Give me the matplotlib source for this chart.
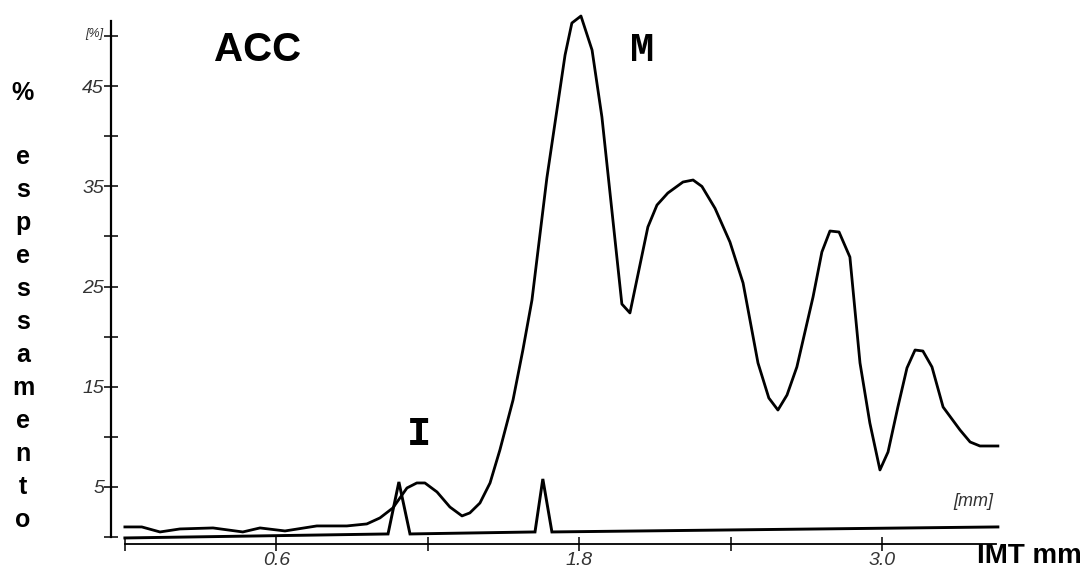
import matplotlib
matplotlib.use("Agg")
import matplotlib.pyplot as plt

# IMT thickness distribution (mm vs % of thickness)
imt_mm = [0.00, 0.067, 0.139, 0.218, 0.349, 0.467, 0.535, 0.634, 0.760, 0.879,
          0.958, 1.010, 1.061, 1.089, 1.117, 1.156, 1.188, 1.236, 1.287, 1.335,
          1.366, 1.406, 1.446, 1.485, 1.537, 1.576, 1.612, 1.671, 1.743, 1.770,
          1.806, 1.850, 1.889, 1.968, 2.000, 2.071, 2.107, 2.150, 2.210, 2.250,
          2.285, 2.337, 2.396, 2.448, 2.507, 2.550, 2.586, 2.622, 2.661, 2.725,
          2.760, 2.792, 2.828, 2.871, 2.911, 2.950, 2.990, 3.022, 3.061, 3.097,
          3.129, 3.160, 3.196, 3.240, 3.307, 3.347, 3.386, 3.426, 3.457]
imt_pct = [1.00, 1.00, 0.50, 0.80, 0.90, 0.50, 0.90, 0.60, 1.10, 1.10,
           1.30, 1.90, 2.89, 3.89, 4.89, 5.39, 5.39, 4.49, 2.99, 2.10,
           2.40, 3.39, 5.39, 8.68, 13.67, 18.66, 23.65, 35.83, 48.10, 51.30,
           52.00, 48.60, 41.92, 23.25, 22.36, 30.94, 33.13, 34.33, 35.43, 35.63,
           34.99, 32.80, 29.44, 25.35, 17.37, 13.87, 12.67, 14.17, 16.97, 23.95,
           28.44, 30.54, 30.44, 27.94, 17.37, 11.38, 6.69, 8.48, 12.97, 16.87,
           18.66, 18.56, 16.97, 12.97, 10.68, 9.48, 9.08, 9.08, 9.08]

# baseline trace with the two markers (I and M)
base_mm = [0.00, 1.042, 1.085, 1.129, 1.624, 1.655, 1.691, 3.457]
base_pct = [-0.10, 0.30, 5.49, 0.30, 0.50, 5.79, 0.50, 1.00]

y_major = [5, 15, 25, 35, 45]
y_minor = [0, 10, 20, 30, 40, 50]
x_major = [0.6, 1.8, 3.0]
x_minor = [0.0, 1.2, 2.4]
letters = list("espessamento")

W, H = 1086, 576
fig = plt.figure(figsize=(W / 100, H / 100), dpi=100)
ax = fig.add_axes([111 / W, 16 / H, 899 / W, 550 / H])

def fx(px):
    return px / W

def fy(py):
    return 1 - py / H

ax.plot(imt_mm, imt_pct, color="black", lw=2.0, solid_joinstyle="round")
ax.plot(base_mm, base_pct, color="black", lw=2.1, solid_joinstyle="miter")

ax.set_xlim(-0.055, 3.505)
ax.set_ylim(-2.3, 52.6)

for s in ["top", "right"]:
    ax.spines[s].set_visible(False)
ax.spines["left"].set_bounds(0, 51.5)
ax.spines["left"].set_linewidth(1.6)
ax.spines["bottom"].set_position(("data", -0.7))
ax.spines["bottom"].set_bounds(0, 3.45)
ax.spines["bottom"].set_linewidth(1.3)

ax.set_yticks(y_major)
ax.set_yticklabels([str(v) for v in y_major])
ax.set_yticks(y_minor, minor=True)
ax.set_xticks(x_major)
ax.set_xticklabels([f"{v:.1f}" for v in x_major])
ax.set_xticks(x_minor, minor=True)
ax.tick_params(axis="both", which="both", direction="inout", length=10, width=1.1,
               colors="black")
ax.tick_params(axis="y", which="major", labelsize=14, pad=0, labelcolor="#333333")
ax.tick_params(axis="x", which="major", labelsize=14, pad=1, labelcolor="#333333")
for lab in ax.get_xticklabels() + ax.get_yticklabels():
    lab.set_fontstyle("italic")
    lab.set_family("Liberation Sans")

# small unit labels
fig.text(fx(94), fy(34), "[%]", fontsize=9, style="italic", color="#333333",
         ha="center", va="center", family="Liberation Sans")
ax.text(3.44, 2.7, "[mm]", fontsize=13, style="italic", color="#333333",
        ha="right", va="bottom", family="Liberation Sans")

# annotations
fig.text(fx(258), fy(50), "ACC", fontsize=29, weight="bold", ha="center",
         va="center", family="Liberation Sans")
fig.text(fx(642), fy(50), "M", fontsize=29, weight="bold", ha="center",
         va="center", family="Liberation Mono")
fig.text(fx(419), fy(434), "I", fontsize=29, weight="bold", ha="center",
         va="center", family="Liberation Mono")

# axis titles
fig.text(fx(1029), fy(556), "IMT mm", fontsize=20, weight="bold", ha="center",
         va="center", family="Liberation Sans")
fig.text(fx(23), fy(93), "%", fontsize=18, weight="bold", ha="center",
         va="center", family="Liberation Sans")
for i, ch in enumerate(letters):
    fig.text(fx(23), fy(157 + i * 33), ch, fontsize=18, weight="bold",
             ha="center", va="center", family="Liberation Sans")

fig.savefig("out.png", dpi=100, facecolor="white")
